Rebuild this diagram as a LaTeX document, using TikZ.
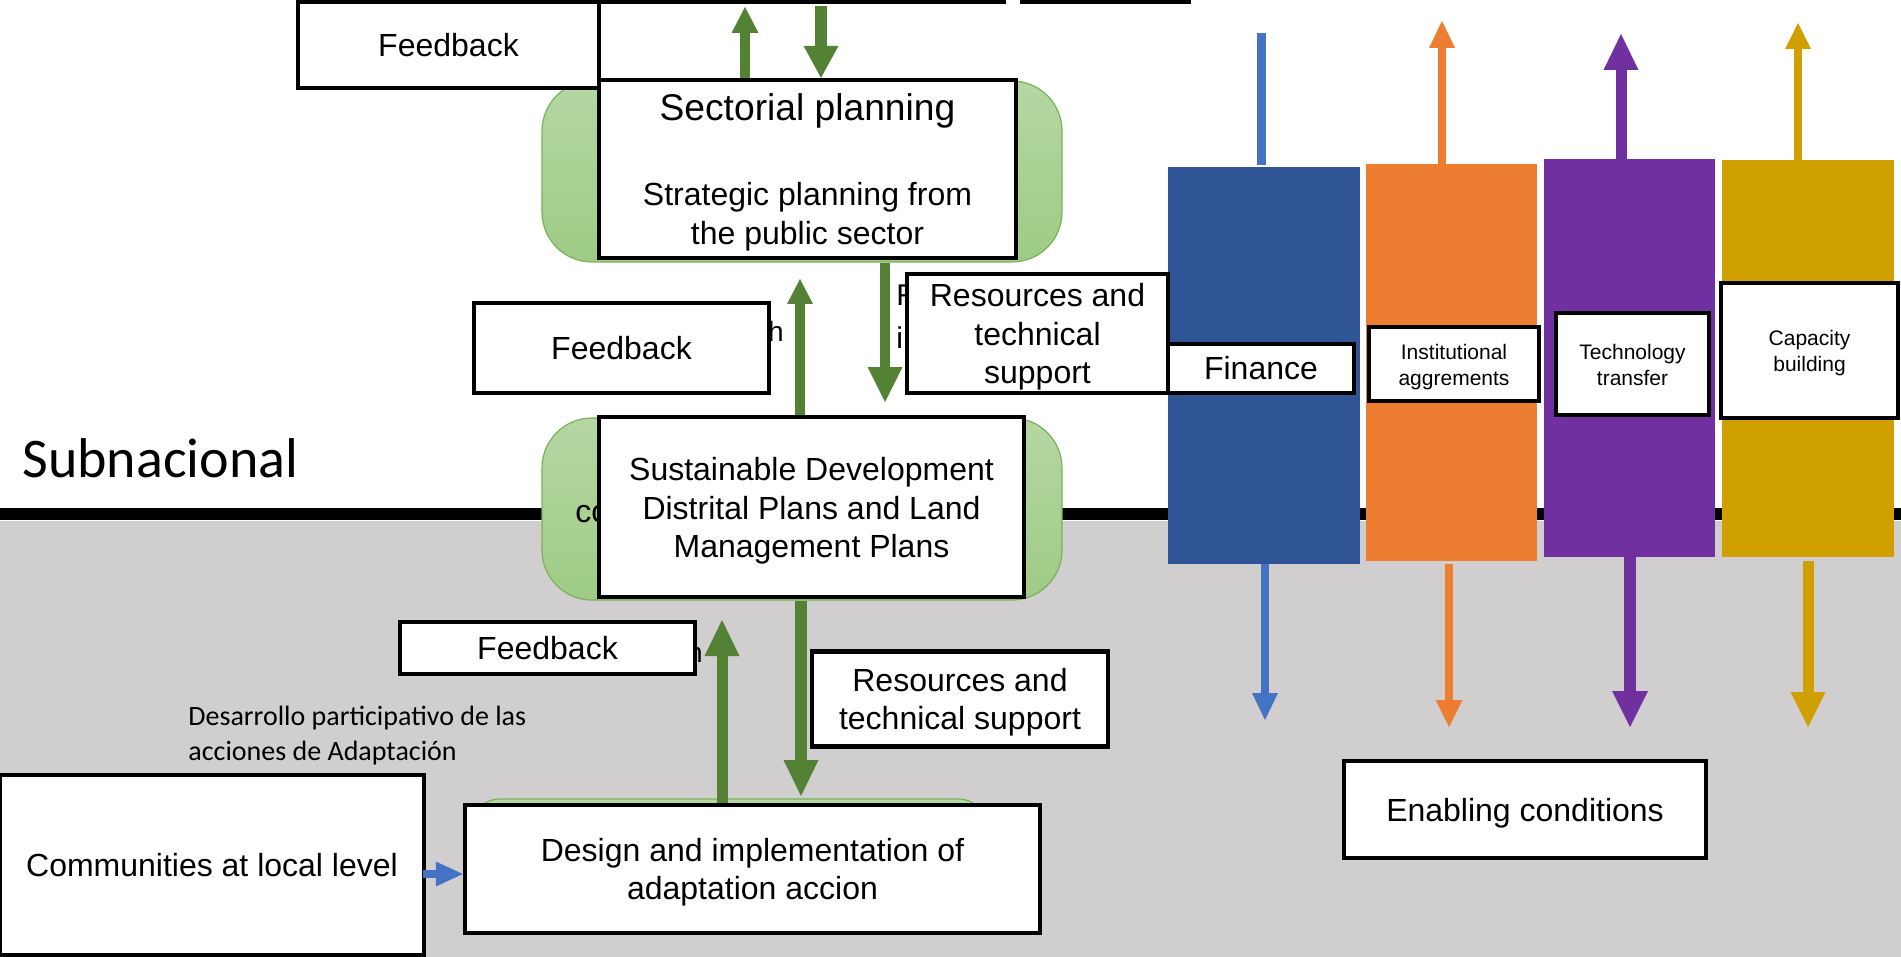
\documentclass[tikz,border=0pt]{standalone}
\usepackage{fontspec}
\setmainfont{Liberation Sans}
\newfontfamily\calfont{Carlito}
\usetikzlibrary{arrows.meta}
\definecolor{grn}{RGB}{84,130,53}
\definecolor{grnlt}{RGB}{181,215,163}
\definecolor{grndk}{RGB}{158,203,133}
\definecolor{grnedge}{RGB}{122,178,90}
\definecolor{bgray}{RGB}{208,206,206}
\definecolor{cblue}{RGB}{47,85,151}
\definecolor{lblue}{RGB}{68,114,196}
\definecolor{corange}{RGB}{237,125,49}
\definecolor{cpurple}{RGB}{112,48,160}
\definecolor{cgold}{RGB}{208,159,0}
\newcommand{\topstrut}[1]{\rule{0pt}{#1}}
\begin{document}
\begin{tikzpicture}[x=0.5pt,y=-0.5pt,
  wbox/.style={draw=black, line width=2.2pt, fill=white, inner sep=0pt, align=center,
    font=\fontsize{16}{19.2}\selectfont},
  smallbox/.style={wbox, font=\fontsize{10.5}{13}\selectfont},
  colbar/.style={inner sep=0pt, draw=none, fill=#1},
  greenbg/.style={rounded corners=25pt, top color=grnlt, bottom color=grndk,
    draw=grnedge, line width=0.6pt, inner sep=0pt},
  blk/.style n args={4}{draw=#1, line width=#2, line cap=butt,
    -{Triangle[width=#3,length=#4,line width=0pt]}},
  frag/.style={inner sep=0pt, font=\fontsize{15}{21.5}\selectfont, align=left}
]
\path[use as bounding box] (0,0) rectangle (1901,957);
% background
\fill[white] (0,0) rectangle (1901,957);
\fill[bgray] (0,521) rectangle (1901,957);
\fill[black] (0,508) rectangle (1901,520);
\node[anchor=base west, inner sep=0pt, font=\calfont\fontsize{28}{33}\selectfont] (subn) at (22,477) {Subnacional};
\node[anchor=north west, inner sep=0pt, align=left, font=\calfont\fontsize{14}{17.2}\selectfont] (desa) at (188,706) {Desarrollo participativo de las\\acciones de Adaptación};

% green background shapes
\node[greenbg, minimum width=260pt, minimum height=90.5pt] (sectbg) at (802,171.5) {};
\node[greenbg, minimum width=260pt, minimum height=91pt] (sustbg) at (802,509) {};
\node[greenbg, rounded corners=15pt, minimum width=259pt, minimum height=63pt] (desbg) at (729,862) {};

% partly hidden text fragments
\node[frag, anchor=base east, font=\fontsize{14}{16}\selectfont] (fragh1) at (784,342) {h};
\node[frag, anchor=north west] (fragr) at (896,284) {R\\i};
\node[frag, anchor=base west, font=\fontsize{16}{19}\selectfont] (fragco) at (575,522) {co};
\node[frag, anchor=base east, font=\fontsize{14}{16}\selectfont] (fragh2) at (703,662) {h};

% coloured bars
\node[colbar=cblue, minimum width=96pt, minimum height=198.5pt] (finbar) at (1264,365.5) {};
\node[colbar=corange, minimum width=85.5pt, minimum height=198.5pt] (orbar) at (1451.5,362.5) {};
\node[colbar=cpurple, minimum width=85.5pt, minimum height=199pt] (pubar) at (1629.5,358) {};
\node[colbar=cgold, minimum width=86pt, minimum height=198.5pt] (gobar) at (1808,358.5) {};

% white boxes
\node[wbox, minimum width=202.5pt, minimum height=31pt] (topa) at (801.5,-29) {};
\node[wbox, minimum width=83.5pt, minimum height=31pt] (topb) at (1105.5,-29) {};
\node[wbox, minimum width=150.5pt, minimum height=43.25pt] (fbtop) at (448.5,44.75) {Feedback};
\node[wbox, minimum width=208.5pt, minimum height=89pt] (sect) at (807.5,169)
  {{\fontsize{18.6}{19.2}\selectfont\topstrut{17pt}Sectorial planning}\\[23.3pt]Strategic planning from\\the public sector};
\node[wbox, minimum width=147.5pt, minimum height=45pt] (fbmid) at (621.5,348) {Feedback};
\node[wbox, minimum width=130.5pt, minimum height=59.5pt] (resmid) at (1037.5,333.5) {\topstrut{15pt}Resources and\\technical\\support};
\node[wbox, minimum width=93pt, minimum height=24.5pt] (finlab) at (1261,368.5) {Finance};
\node[smallbox, minimum width=85pt, minimum height=37pt] (instlab) at (1454,364) {\topstrut{10.6pt}Institutional\\aggrements};
\node[smallbox, minimum width=76.5pt, minimum height=51pt] (techlab) at (1632.5,364) {\topstrut{8.6pt}Technology\\transfer};
\node[smallbox, minimum width=88.5pt, minimum height=67.5pt] (caplab) at (1809.5,350.5) {\topstrut{10.6pt}Capacity\\building};
\node[wbox, minimum width=212.5pt, minimum height=90pt] (sust) at (811.5,507)
  {\topstrut{15.5pt}Sustainable Development\\Distrital Plans and Land\\Management Plans};
\node[wbox, minimum width=147.5pt, minimum height=26pt] (fblow) at (547.5,648) {Feedback};
\node[wbox, minimum width=148pt, minimum height=47.5pt] (reslow) at (960,699) {\topstrut{15pt}Resources and\\technical support};
\node[wbox, minimum width=287.5pt, minimum height=64pt] (design) at (752.5,869)
  {\topstrut{15pt}Design and implementation of\\adaptation accion};
\node[wbox, minimum width=212pt, minimum height=90pt] (comm) at (212,865) {Communities at local level};
\node[wbox, minimum width=181pt, minimum height=48.5pt] (enab) at (1525,809.5) {\topstrut{15pt}Enabling conditions};

% green connectors
\coordinate (tu) at (745,7);
\coordinate (td) at (821,6);
\coordinate (mu) at (800,279);
\coordinate (md) at (885,402);
\coordinate (lu) at (722,620);
\coordinate (ld) at (801,796);
\draw[blk={grn}{5pt}{13.5pt}{13pt}] (tu |- sect.north) -- (tu);
\draw[blk={grn}{6pt}{17.5pt}{16pt}] (td) -- (td |- sect.north);
\draw[blk={grn}{5pt}{13pt}{12.5pt}] (mu |- sust.north) -- (mu);
\draw[blk={grn}{5pt}{17.5pt}{17.5pt}] (md |- sectbg.south) -- (md);
\draw[blk={grn}{5.5pt}{17.5pt}{18pt}] (lu |- design.north) -- (lu);
\draw[blk={grn}{6pt}{17.5pt}{18pt}] (ld |- sustbg.south) -- (ld);

% community arrow
\coordinate (ca) at (423,874);
\draw[blk={lblue}{4pt}{12.5pt}{13.5pt}] (ca) -- (ca -| design.west);

% coloured connectors
\coordinate (bt) at (1261,33);
\coordinate (ot) at (1442,21);
\coordinate (pt) at (1621,34);
\coordinate (gt) at (1798,23);
\coordinate (bd) at (1265,720);
\coordinate (od) at (1449,727);
\coordinate (pd) at (1630,727);
\coordinate (gd) at (1808,727);
\draw[draw=lblue, line width=4.5pt] (bt) -- ([yshift=1pt]bt |- finbar.north);
\draw[blk={corange}{4pt}{13pt}{13.5pt}] (ot |- orbar.north) -- (ot);
\draw[blk={cpurple}{5.5pt}{17.5pt}{18pt}] (pt |- pubar.north) -- (pt);
\draw[blk={cgold}{4pt}{13pt}{13pt}] (gt |- gobar.north) -- (gt);
\draw[blk={lblue}{4pt}{13pt}{13.5pt}] (bd |- finbar.south) -- (bd);
\draw[blk={corange}{4pt}{13.5pt}{13.5pt}] ([yshift=-1.5pt]od |- orbar.south) -- (od);
\draw[blk={cpurple}{6pt}{18pt}{18pt}] (pd |- pubar.south) -- (pd);
\draw[blk={cgold}{5.5pt}{17.5pt}{17.5pt}] ([yshift=-2pt]gd |- gobar.south) -- (gd);
\end{tikzpicture}
\end{document}
